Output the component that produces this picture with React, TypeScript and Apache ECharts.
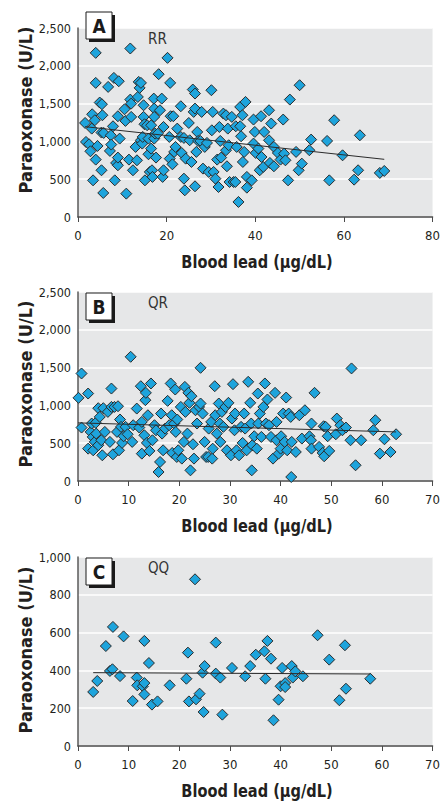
import React, { useEffect, useRef } from "react";
import * as echarts from "echarts";

// Panel A (RR)
const leadRR = [1.6,1.8,2.5,2.8,3.1,3.2,3.4,3.8,4.0,4.0,4.0,4.4,4.9,5.3,5.4,5.5,5.3,5.8,5.7,6.8,7.2,7.4,7.5,7.9,8.1,8.3,8.6,9.0,9.0,9.2,9.0,9.4,10.5,10.7,10.9,11.5,11.8,11.8,12.0,12.0,12.4,13.0,13.3,13.5,13.7,13.9,14.2,14.2,14.5,14.6,14.8,14.8,15.0,15.1,15.6,15.9,15.9,16.2,16.5,16.5,16.7,16.8,17.1,17.2,17.2,17.2,17.4,17.6,18.0,18.2,18.5,18.9,19.1,19.3,19.3,20.2,20.6,20.8,20.7,20.9,21.5,21.3,21.7,22.0,22.4,23.2,23.2,23.4,23.9,23.9,24.1,24.3,25.0,25.2,25.6,25.9,26.1,26.4,26.4,26.4,26.7,26.9,27.1,27.6,27.9,28.2,28.6,29.1,29.5,30.1,30.2,30.4,30.6,31.0,31.4,31.7,31.9,32.1,32.3,32.8,33.4,33.4,33.6,33.8,34.0,34.2,34.7,35.1,35.5,35.6,35.8,36.2,36.6,36.6,36.8,37.1,37.2,37.5,37.8,38.1,38.1,39.2,39.6,39.6,39.9,40.1,40.7,41.0,41.3,41.4,41.8,42.0,43.1,43.1,43.3,43.6,44.2,44.2,45.1,45.7,46.3,46.5,46.8,47.4,47.8,49.2,49.8,50.0,50.5,52.2,52.6,56.2,56.7,57.8,59.7,62.3,63.2,63.6,68.1,69.1];
const ponRR = [1244,993,962,869,1169,1359,485,1280,2171,1774,759,940,1514,618,1492,1346,1117,1112,318,1721,874,1081,958,1200,1840,485,715,684,786,1796,1333,1037,1425,1271,309,759,1553,2229,1324,1500,618,927,750,1588,1787,1708,1774,1015,971,1059,1478,1324,1227,485,1214,1037,830,596,1214,905,618,530,1566,1434,1324,1037,1103,786,1103,1889,1412,1566,530,1191,618,2105,1059,1774,772,1333,1333,697,861,927,1169,1465,1059,847,1046,507,353,772,1244,1015,728,1686,1390,1633,1434,406,861,1125,1006,1006,1390,640,927,980,596,1677,1147,1390,596,507,759,397,1191,1006,786,1368,1346,883,671,1169,949,463,1324,463,463,1200,927,199,1456,1200,1068,1346,728,861,1522,530,388,485,1289,971,1125,847,905,618,1333,794,662,1125,1412,1015,715,1236,671,927,847,759,1289,838,750,485,1553,861,618,1743,706,883,1024,1006,485,1280,816,494,618,1081,583,609];
const trendLeadRR = [1.6, 69.1];
const trendPonRR = [1195, 763];

// Panel B (QR)
const leadQR = [0.1,0.7,0.7,2.0,2.0,2.5,2.7,2.9,3.0,3.3,3.5,3.6,4.0,4.0,4.3,4.6,4.8,5.0,5.3,5.9,6.3,6.6,6.6,6.9,7.2,7.7,7.9,8.1,8.3,8.5,8.7,9.0,9.4,9.8,10.4,10.7,10.9,11.6,12.1,12.4,12.6,12.6,13.1,13.3,13.4,13.6,13.8,14.1,14.4,14.7,15.1,15.4,15.9,16.2,16.4,16.6,16.8,17.2,17.7,18.0,18.3,18.5,18.6,19.0,19.2,19.3,19.5,19.6,19.8,20.3,20.5,20.9,21.1,21.2,21.6,21.8,22.0,22.2,22.4,22.7,22.9,23.2,23.5,23.9,24.2,24.2,24.6,25.0,25.3,25.7,25.8,26.3,26.5,26.6,27.0,27.1,27.4,27.8,28.0,28.1,28.4,28.7,29.1,29.4,29.7,30.2,30.4,30.6,30.9,31.0,31.3,31.8,32.2,32.5,32.8,33.0,33.3,33.6,34.0,34.2,34.3,34.4,34.8,35.3,35.5,35.6,35.9,36.2,36.6,36.9,37.1,37.4,37.7,38.1,38.5,38.9,39.2,39.2,39.6,40.0,40.1,40.5,40.8,41.1,41.3,41.6,42.0,42.1,42.2,43.0,43.7,44.2,44.8,45.7,46.0,46.1,46.1,46.7,47.6,48.3,48.5,48.6,48.9,49.3,49.6,50.9,51.1,51.8,52.2,52.9,53.8,54.0,54.8,55.9,58.3,58.7,59.6,60.5,61.7,62.8];
const ponQR = [1100,1422,707,1157,428,649,760,583,406,517,769,627,963,473,848,539,340,963,649,914,517,1223,980,353,980,649,989,406,813,716,504,592,716,618,1643,517,738,958,707,1254,782,362,605,1069,1166,504,870,398,1290,539,738,671,119,252,892,627,406,693,1060,738,1290,870,371,760,1210,649,318,813,406,980,296,517,1245,914,627,1166,1034,141,1122,486,296,936,760,980,1497,1025,892,517,318,318,693,782,296,428,1254,870,627,1025,760,517,914,716,980,406,1034,340,826,1281,671,892,406,340,716,504,892,693,406,1312,1034,760,141,473,592,428,1157,760,892,583,980,1290,760,1078,738,583,296,1166,539,782,362,428,592,892,517,1104,406,892,848,53,517,384,870,561,936,592,539,428,760,1166,451,371,724,327,716,592,398,618,826,738,671,707,539,1489,208,539,671,804,362,552,384,618];
const trendLeadQR = [0, 62.8];
const trendPonQR = [769, 649];

// Panel C (QQ)
const leadQQ = [3.0,3.8,5.5,6.3,6.8,6.9,8.3,9.0,10.8,11.6,11.7,12.8,13.1,13.1,13.1,14.0,14.6,15.7,18.1,21.4,21.7,21.9,23.1,23.3,24.0,24.6,24.8,25.0,27.2,27.2,28.1,28.5,30.4,33.0,34.0,35.1,36.8,37.0,37.4,38.1,38.6,39.6,40.0,40.3,40.9,40.9,42.2,42.4,42.9,44.4,47.3,49.6,51.6,52.7,52.9,57.7];
const ponQQ = [286,344,529,397,406,630,370,580,238,362,321,316,333,273,556,439,219,236,321,356,494,236,882,247,277,388,180,423,547,383,362,166,413,369,423,483,501,356,556,462,136,245,316,413,333,312,423,362,395,369,586,457,242,533,303,356];
const trendLeadQQ = [3.0, 57.7];
const trendPonQQ = [388, 381];

const panelLetters = ["A", "B", "C"];
const genotypes = ["RR", "QR", "QQ"];
const yMaxes = [2500, 2500, 1000];
const yIntervals = [500, 500, 200];
const xMaxes = [80, 70, 70];
const xIntervals = [20, 10, 10];
const xTitle = "Blood lead (μg/dL)";
const yTitle = "Paraoxonase (U/L)";

const FONT = "'Liberation Sans Narrow', 'DejaVu Sans Condensed', 'Roboto', sans-serif";

export default function App() {
  const ref = useRef<HTMLDivElement>(null);
  useEffect(() => {
    if (!ref.current) return;
    const chart = echarts.init(ref.current, null, { renderer: "svg" });
    const tops = [28, 292, 557];
    const gridH = 189;
    const left = 78;
    const width = 358;
    const yTitleCenters = [110, 384, 650];
    const boxTops = [12, 293, 558];
    const pts = [
      [leadRR, ponRR],
      [leadQR, ponQR],
      [leadQQ, ponQQ],
    ];
    const trends = [
      [trendLeadRR, trendPonRR],
      [trendLeadQR, trendPonQR],
      [trendLeadQQ, trendPonQQ],
    ];
    const grids: any[] = [];
    const xAxes: any[] = [];
    const yAxes: any[] = [];
    const series: any[] = [];
    const graphics: any[] = [];
    for (let i = 0; i < 3; i++) {
      grids.push({
        left,
        top: tops[i],
        width,
        height: gridH,
        show: true,
        backgroundColor: "#e6e7e8",
        borderWidth: 0,
      });
      xAxes.push({
        type: "value",
        gridIndex: i,
        min: 0,
        max: xMaxes[i],
        interval: xIntervals[i],
        axisLine: { show: true, onZero: false, lineStyle: { color: "#4a4a4a", width: 1.5 } },
        axisTick: { show: true, length: 5, lineStyle: { color: "#4a4a4a", width: 1 } },
        splitLine: { show: false },
        axisLabel: { color: "#231f20", fontFamily: FONT, fontSize: 13, margin: 12 },
      });
      yAxes.push({
        type: "value",
        gridIndex: i,
        min: 0,
        max: yMaxes[i],
        interval: yIntervals[i],
        axisLine: { show: true, lineStyle: { color: "#5a5a5a", width: 1.5 } },
        axisTick: { show: false },
        splitLine: { show: true, lineStyle: { color: "#ffffff", width: 1.5 } },
        axisLabel: {
          color: "#231f20",
          fontFamily: FONT,
          fontSize: 12.5,
          margin: 7,
          formatter: (v: number) => v.toLocaleString("en-US"),
        },
      });
      const [xs, ys] = pts[i];
      series.push({
        type: "scatter",
        xAxisIndex: i,
        yAxisIndex: i,
        symbol: "diamond",
        symbolSize: 11,
        itemStyle: { color: "#1ea4dc", borderColor: "#2b2b2b", borderWidth: 1, opacity: 1 },
        data: xs.map((x, k) => [x, ys[k]]),
        z: 2,
      });
      const [tx, ty] = trends[i];
      series.push({
        type: "line",
        xAxisIndex: i,
        yAxisIndex: i,
        symbol: "none",
        lineStyle: { color: "#2b2b2b", width: 1 },
        data: tx.map((x, k) => [x, ty[k]]),
        z: 3,
      });
      graphics.push({
        type: "text",
        x: left + width / 2,
        y: tops[i] + gridH + 45,
        scaleX: 0.9,
        style: {
          text: xTitle,
          font: `bold 18px ${FONT}`,
          fill: "#231f20",
          textAlign: "center",
          textVerticalAlign: "middle",
        },
      });
      graphics.push({
        type: "text",
        x: 25,
        y: yTitleCenters[i],
        rotation: Math.PI / 2,
        style: {
          text: yTitle,
          font: `bold 18px ${FONT}`,
          fill: "#231f20",
          textAlign: "center",
          textVerticalAlign: "middle",
        },
      });
      graphics.push({
        type: "text",
        x: 148,
        y: tops[i] + 11,
        style: {
          text: genotypes[i],
          font: `15px ${FONT}`,
          fill: "#333333",
          textAlign: "left",
          textVerticalAlign: "middle",
        },
      });
      graphics.push({
        type: "rect",
        shape: { x: 89, y: boxTops[i] + 3, width: 26, height: 27 },
        style: { fill: "#1a1a1a" },
        z: 10,
      });
      graphics.push({
        type: "rect",
        shape: { x: 86, y: boxTops[i], width: 26, height: 27 },
        style: { fill: "#ffffff", stroke: "#1a1a1a", lineWidth: 1 },
        z: 11,
      });
      graphics.push({
        type: "text",
        x: 99,
        y: boxTops[i] + 14,
        z: 12,
        style: {
          text: panelLetters[i],
          font: `bold 19px ${FONT}`,
          fill: "#1a1a1a",
          textAlign: "center",
          textVerticalAlign: "middle",
        },
      });
    }
    chart.setOption({
      animation: false,
      backgroundColor: "#ffffff",
      grid: grids,
      xAxis: xAxes,
      yAxis: yAxes,
      series,
      graphic: graphics,
    });
    return () => chart.dispose();
  }, []);
  return (
    <div
      ref={ref}
      style={{ position: "absolute", left: 0, top: 0, width: 443, height: 801 }}
    />
  );
}
